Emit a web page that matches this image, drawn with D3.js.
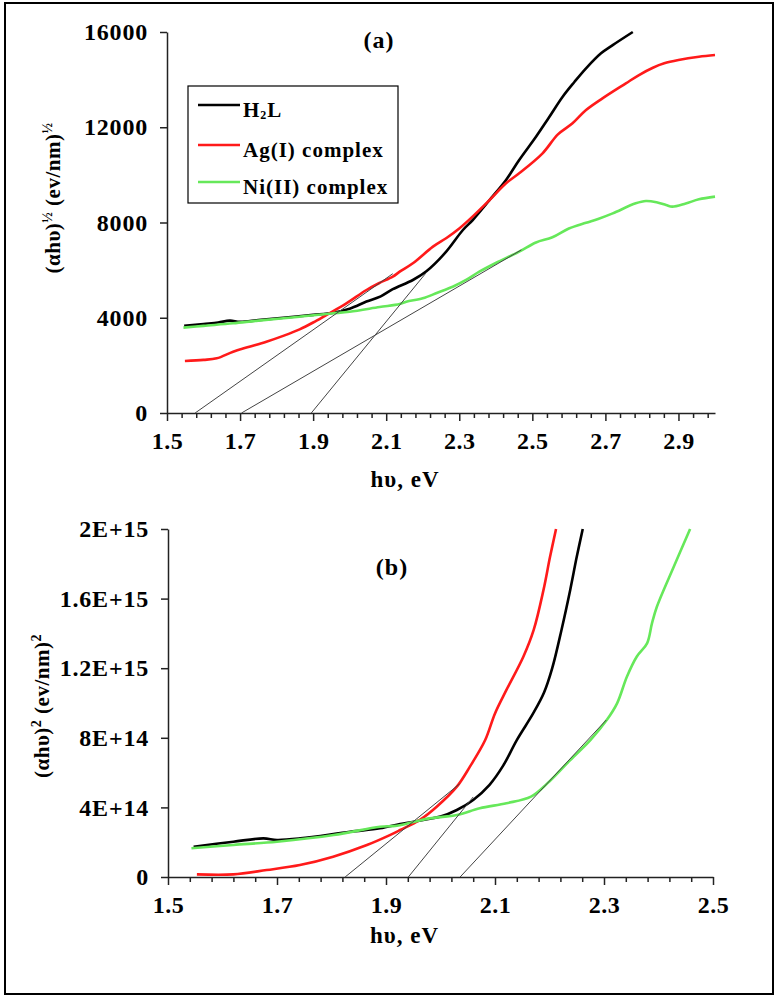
<!DOCTYPE html>
<html>
<head>
<meta charset="utf-8">
<script src="https://cdn.jsdelivr.net/npm/d3@7"></script>
<style>
body { margin: 0; background: #fff; }
text { font-family: "Liberation Serif", "Times New Roman", serif; font-weight: bold; fill: #000; }
</style>
</head>
<body>
<div id="chart"></div>
<script>
// ---- data ----
const seriesNames = ["H2L", "Ag(I) complex", "Ni(II) complex"];
const seriesColors = ["#000000", "#ff1a1a", "#66e85a"];

// panel (a): (alpha h nu)^1/2 vs h nu
const h2lA = [[1.547,3660],[1.60,3740],[1.64,3800],[1.672,3880],[1.70,3830],[1.75,3900],[1.818,4000],[1.90,4120],[1.954,4210],[2.0,4380],[2.046,4680],[2.085,4900],[2.118,5200],[2.173,5585],[2.21,5950],[2.26,6700],[2.31,7685],[2.337,8105],[2.383,8945],[2.428,9785],[2.464,10625],[2.51,11603],[2.545,12400],[2.583,13283],[2.615,13900],[2.647,14475],[2.688,15105],[2.72,15450],[2.775,16000]];
const agA = [[1.549,2184],[1.60,2230],[1.636,2296],[1.681,2576],[1.72,2760],[1.772,2996],[1.82,3250],[1.863,3514],[1.90,3800],[1.936,4115],[1.991,4605],[2.046,5165],[2.08,5450],[2.118,5725],[2.137,5935],[2.173,6286],[2.228,6985],[2.265,7350],[2.30,7750],[2.34,8300],[2.383,8945],[2.428,9646],[2.464,10066],[2.528,10906],[2.57,11700],[2.61,12166],[2.647,12724],[2.692,13215],[2.756,13845],[2.792,14194],[2.83,14500],[2.861,14685],[2.90,14824],[2.956,14963],[3.0,15034]];
const niA = [[1.545,3584],[1.60,3660],[1.681,3766],[1.75,3880],[1.863,4045],[1.95,4180],[2.0,4255],[2.082,4450],[2.137,4577],[2.155,4674],[2.20,4814],[2.24,5050],[2.282,5304],[2.32,5600],[2.355,5934],[2.40,6300],[2.464,6774],[2.51,7160],[2.555,7379],[2.60,7750],[2.647,7991],[2.68,8150],[2.72,8385],[2.783,8805],[2.811,8903],[2.84,8850],[2.866,8735],[2.883,8665],[2.92,8800],[2.956,8973],[3.0,9085]];
const tangentsA = [[[1.577,0],[2.118,5850]], [[1.704,0],[2.47,6850]], [[1.895,0],[2.21,5900]]];
const xTicksA = [1.5,1.7,1.9,2.1,2.3,2.5,2.7,2.9];
const yTicksA = [0,4000,8000,12000,16000];
const yTickLabelsA = ["0","4000","8000","12000","16000"];

// panel (b): (alpha h nu)^2 vs h nu
const h2lB = [[1.547,1.74e14],[1.62,2.03e14],[1.675,2.22e14],[1.70,2.13e14],[1.743,2.22e14],[1.834,2.60e14],[1.889,2.80e14],[1.926,3.05e14],[1.951,3.18e14],[2.0,3.47e14],[2.03,3.85e14],[2.06,4.43e14],[2.09,5.3e14],[2.115,6.4e14],[2.14,7.87e14],[2.17,9.4e14],[2.19,10.6e14],[2.205,12.0e14],[2.222,14.2e14],[2.238,16.5e14],[2.25,18.4e14],[2.261,20.0e14]];
const agB = [[1.553,0.15e14],[1.62,0.15e14],[1.681,0.40e14],[1.742,0.69e14],[1.803,1.17e14],[1.865,1.84e14],[1.907,2.41e14],[1.926,2.70e14],[1.962,3.28e14],[1.993,4.04e14],[2.03,5.19e14],[2.054,6.34e14],[2.082,7.87e14],[2.10,9.4e14],[2.121,10.75e14],[2.152,12.66e14],[2.171,14.2e14],[2.189,16.5e14],[2.201,18.4e14],[2.212,20.0e14]];
const niB = [[1.543,1.65e14],[1.62,1.84e14],[1.70,2.03e14],[1.804,2.41e14],[1.889,2.89e14],[1.92,2.95e14],[1.98,3.37e14],[2.03,3.56e14],[2.072,3.95e14],[2.121,4.24e14],[2.166,4.62e14],[2.196,5.38e14],[2.238,6.72e14],[2.275,7.87e14],[2.305,9.02e14],[2.324,9.98e14],[2.342,11.51e14],[2.36,12.66e14],[2.379,13.43e14],[2.388,14.58e14],[2.397,15.53e14],[2.428,17.83e14],[2.458,20.0e14]];
const tangentsB = [[[1.825,0],[2.035,5.35e14]], [[1.941,0],[2.06,4.6e14]], [[2.036,0],[2.304,9.02e14]]];
const xTicksB = [1.5,1.7,1.9,2.1,2.3,2.5];
const yTicksB = [0,4e14,8e14,1.2e15,1.6e15,2e15];
const yTickLabelsB = ["0","4E+14","8E+14","1.2E+15","1.6E+15","2E+15"];

// ---- drawing ----
const width = 777;
const height = 997;

const svg = d3.select("#chart")
    .append("svg")
    .attr("width", width)
    .attr("height", height);

svg.append("rect")
    .attr("x", 5).attr("y", 3)
    .attr("width", 768).attr("height", 991)
    .attr("fill", "none")
    .attr("stroke", "#000")
    .attr("stroke-width", 2);

function drawPanel(p) {
    const x = d3.scaleLinear().domain(p.xDomain).range(p.xRange);
    const y = d3.scaleLinear().domain(p.yDomain).range(p.yRange);
    const g = svg.append("g");

    // minor x ticks every 0.04 eV
    const minor = d3.range(0, Math.round((p.xDomain[1] - p.xDomain[0]) / 0.04) + 1)
        .map(i => +(p.xDomain[0] + i * 0.04).toFixed(2))
        .filter(v => Math.round((v - p.xDomain[0]) / 0.04) % 5 !== 0 && v <= p.xDomain[1]);

    g.append("g")
        .attr("transform", `translate(0,${p.yRange[0]})`)
        .call(d3.axisBottom(x).tickValues(minor).tickSize(5).tickSizeOuter(0).tickFormat(""))
        .call(a => a.select(".domain").remove())
        .selectAll("line").attr("stroke", "#222").attr("stroke-width", 1.5);

    const xAxis = g.append("g")
        .attr("transform", `translate(0,${p.yRange[0]})`)
        .call(d3.axisBottom(x).tickValues(p.xTicks).tickSize(8).tickSizeOuter(0).tickPadding(11)
            .tickFormat(d3.format(".1f")));
    xAxis.selectAll("text").style("font-size", "24px").style("letter-spacing", "0.5px");

    const yAxis = g.append("g")
        .attr("transform", `translate(${p.xRange[0]},0)`)
        .call(d3.axisLeft(y).tickValues(p.yTicks).tickSize(7).tickSizeOuter(0).tickPadding(12)
            .tickFormat((d, i) => p.yTickLabels[i]));
    yAxis.selectAll("text").style("font-size", "24px").style("letter-spacing", "0.8px");

    [xAxis, yAxis].forEach(a => {
        a.select(".domain").attr("stroke", "#222").attr("stroke-width", 1.5);
        a.selectAll(".tick line").attr("stroke", "#222").attr("stroke-width", 1.5);
    });

    const line = d3.line()
        .x(d => x(d[0]))
        .y(d => y(d[1]))
        .curve(d3.curveCatmullRom.alpha(0.5));

    p.series.forEach((s, i) => {
        g.append("path")
            .datum(s)
            .attr("fill", "none")
            .attr("stroke", seriesColors[i])
            .attr("stroke-width", 2.6)
            .attr("stroke-linejoin", "round")
            .attr("d", line);
    });

    g.selectAll(".tangent")
        .data(p.tangents)
        .enter().append("line")
        .attr("class", "tangent")
        .attr("x1", d => x(d[0][0]))
        .attr("y1", d => y(d[0][1]))
        .attr("x2", d => x(d[1][0]))
        .attr("y2", d => y(d[1][1]))
        .attr("stroke", "#444")
        .attr("stroke-width", 1);

    g.append("text")
        .attr("x", p.titlePos[0]).attr("y", p.titlePos[1])
        .attr("text-anchor", "middle")
        .style("font-size", "24px")
        .style("letter-spacing", "1px")
        .text(p.title);

    g.append("text")
        .attr("x", (p.xRange[0] + p.xRange[1]) / 2 - 36)
        .attr("y", p.yRange[0] + p.xLabelGap)
        .attr("text-anchor", "middle")
        .style("font-size", "23px")
        .style("letter-spacing", "1px")
        .text("hυ, eV");

    const yl = g.append("text")
        .attr("transform", `translate(${p.yLabelPos[0]},${p.yLabelPos[1]}) rotate(-90)`)
        .attr("text-anchor", "middle")
        .style("font-size", "21px")
        .style("letter-spacing", "0.5px");
    yl.append("tspan").text("(αhυ)");
    yl.append("tspan").attr("dy", -8).style("font-size", "14px").text(p.power);
    yl.append("tspan").attr("dy", 8).text(" (ev/nm)");
    yl.append("tspan").attr("dy", -8).style("font-size", "14px").text(p.power);

    return { x, y, g };
}

drawPanel({
    xDomain: [1.5, 3.0], xRange: [167, 715],
    yDomain: [0, 16000], yRange: [413, 32],
    xTicks: xTicksA, yTicks: yTicksA, yTickLabels: yTickLabelsA,
    series: [h2lA, agA, niA], tangents: tangentsA,
    title: "(a)", titlePos: [379, 48], xLabelGap: 74,
    yLabelPos: [60, 198], power: "½"
});

drawPanel({
    xDomain: [1.5, 2.5], xRange: [168, 713],
    yDomain: [0, 2e15], yRange: [877, 529],
    xTicks: xTicksB, yTicks: yTicksB, yTickLabels: yTickLabelsB,
    series: [h2lB, agB, niB], tangents: tangentsB,
    title: "(b)", titlePos: [392, 575], xLabelGap: 66,
    yLabelPos: [49, 706], power: "2"
});

// legend (panel a)
const legend = svg.append("g");
legend.append("rect")
    .attr("x", 188).attr("y", 86)
    .attr("width", 210).attr("height", 117)
    .attr("fill", "#fff")
    .attr("stroke", "#000")
    .attr("stroke-width", 1.2);

const legendRows = [105, 145, 182];
seriesNames.forEach((name, i) => {
    legend.append("line")
        .attr("x1", 198).attr("x2", 240)
        .attr("y1", legendRows[i]).attr("y2", legendRows[i])
        .attr("stroke", seriesColors[i])
        .attr("stroke-width", 2.6);
    const t = legend.append("text")
        .attr("x", 243).attr("y", legendRows[i] + 12)
        .style("font-size", "21px")
        .style("letter-spacing", "1px");
    if (name === "H2L") {
        t.append("tspan").text("H");
        t.append("tspan").attr("dy", 2).style("font-size", "12px").text("2");
        t.append("tspan").attr("dy", -2).text("L");
    } else {
        t.text(name);
    }
});
</script>
</body>
</html>
